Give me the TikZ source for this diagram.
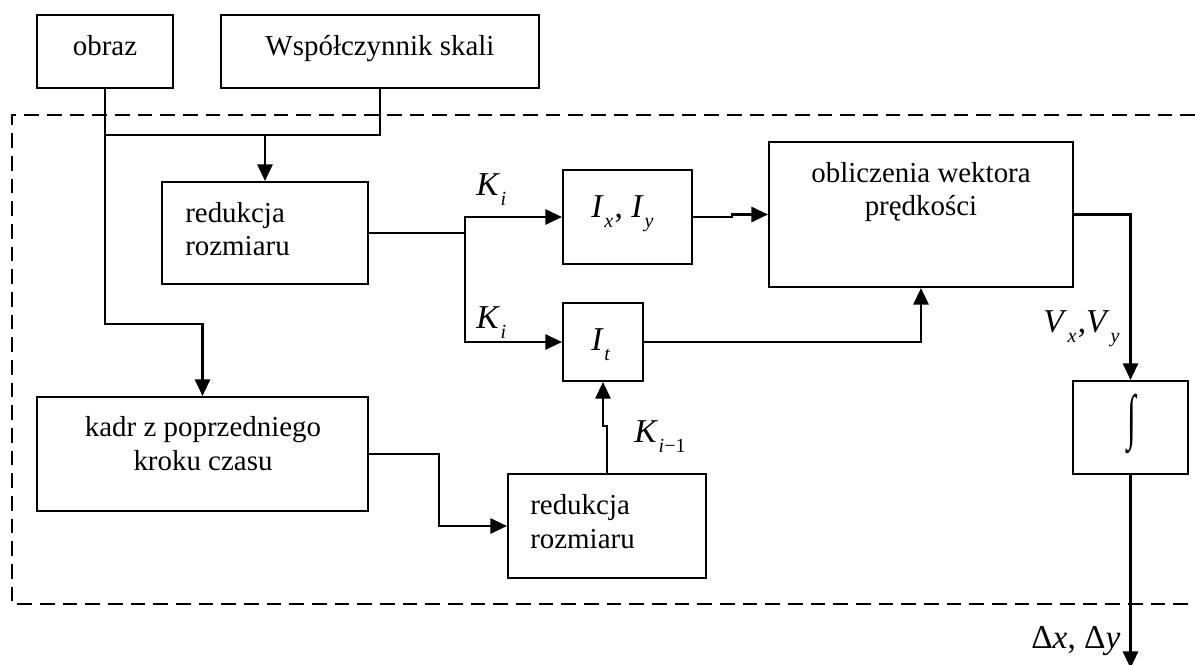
\documentclass[tikz,border=0pt]{standalone}
\usepackage{fontspec}
\setmainfont{Liberation Serif}
\usepackage{graphicx}
\usetikzlibrary{arrows.meta}

% italic symbol with a lowered, smaller subscript
\newcommand\ssub[2]{\textit{#1}\kern0.6pt\raisebox{-7.5pt}{\fontsize{15pt}{15pt}\selectfont #2}}

\begin{document}
\begin{tikzpicture}[x=0.75pt,y=-0.75pt,
  every node/.style={font=\fontsize{21.7pt}{26pt}\selectfont, inner sep=0pt},
  blk/.style={draw, line width=1.6pt, inner sep=0pt},
  lbl/.style={anchor=base},
  lblw/.style={anchor=base west},
  mlbl/.style={anchor=base west, font=\fontsize{25pt}{28pt}\selectfont},
  wire/.style={line width=1.6pt},
  arr/.style={wire, -{Triangle[length=12.5pt,width=11.5pt]}},
  frame/.style={line width=1.6pt, dash pattern=on 11pt off 6pt}]

\useasboundingbox (0,0) rectangle (1195,664);

% dashed frame of the processing block
\draw[frame] (1195,115) -- (12,115) -- (12,604) -- (1195,604);

% blocks
\node[blk, minimum width=102pt,   minimum height=54.75pt]  (obraz) at (105,51.5) {};
\node[blk, minimum width=238.5pt, minimum height=54.75pt]  (wsp)   at (380,51.5) {};
\node[blk, minimum width=154.5pt, minimum height=76.5pt]   (red1)  at (265,233) {};
\node[blk, minimum width=96.75pt, minimum height=70.5pt]   (ixy)   at (627.5,217) {};
\node[blk, minimum width=60pt,    minimum height=58.5pt]   (it)    at (603,342) {};
\node[blk, minimum width=228pt,   minimum height=108.75pt] (obl)   at (921,214.5) {};
\node[blk, minimum width=248.25pt,minimum height=85.5pt]   (kadr)  at (202.5,454) {};
\node[blk, minimum width=148.5pt, minimum height=78pt]     (red2)  at (607,526) {};
\node[blk, minimum width=86.25pt, minimum height=69.75pt]  (int)   at (1130.5,427.5) {};

% block texts
\node[lbl]  (tobraz) at (105,55) {obraz};
\node[lbl]  (twsp)   at (380,55) {Współczynnik skali};
\node[lblw] (tred1a) at (185,222) {redukcja};
\node[lblw] (tred1b) at (185,255) {rozmiaru};
\node[lbl]  (tkadra) at (203,436) {kadr z poprzedniego};
\node[lbl]  (tkadrb) at (203,470) {kroku czasu};
\node[lbl]  (tobla)  at (921,182) {obliczenia wektora};
\node[lbl]  (toblb)  at (921,215) {prędkości};
\node[lblw] (tred2a) at (530,514) {redukcja};
\node[lblw] (tred2b) at (530,548) {rozmiaru};
\node[mlbl] (tixy)   at (591,217) {\ssub{I}{\textit{x}}\kern1pt, \ssub{I}{\textit{y}}};
\node[mlbl] (tit)    at (591,350) {\ssub{I}{\textit{t}}};
\node (tint) at (1132,424) {\scalebox{1.1}[2.1]{∫}};

% signal labels
\node[mlbl] (lk1)  at (476,195) {\ssub{K}{\textit{i}}};
\node[mlbl] (lk2)  at (476,328) {\ssub{K}{\textit{i}}};
\node[mlbl] (lk3)  at (634,442) {\ssub{K}{\textit{i}−1}};
\node[mlbl] (lv)   at (1043,332) {\ssub{V}{\textit{x}}\kern1pt,\ssub{V}{\textit{y}}};
\node[mlbl] (ld)   at (1031,648) {Δ\textit{x}, Δ\textit{y}};

% junction points
\coordinate (j1) at (105,324);
\coordinate (j2) at (105,135);
\coordinate (br) at (465,233);
\coordinate (out) at (1130.5,668);

% connectors
\draw[arr]  (obraz.south) |- (j1) -| (kadr.north);
\draw[wire] (wsp.south) |- (j2);
\draw[arr]  (red1.north |- j2) -- (red1.north);
\draw[wire] (red1.east) -- (br);
\draw[arr]  (br) |- (ixy.west);
\draw[arr]  (br) |- (it.west);
\draw[arr]  (ixy.east) -- ++(39,0) |- (obl.west);
\draw[arr]  (it.east) -| (obl.south);
\draw[arr]  (red2.north) -- ++(0,-47) -| (it.south);
\draw[arr]  (kadr.east) -- ++(70,0) |- (red2.west);
\draw[arr]  (obl.east) -| (int.north);
\draw[arr]  (int.south) -- (out);

\end{tikzpicture}
\end{document}
